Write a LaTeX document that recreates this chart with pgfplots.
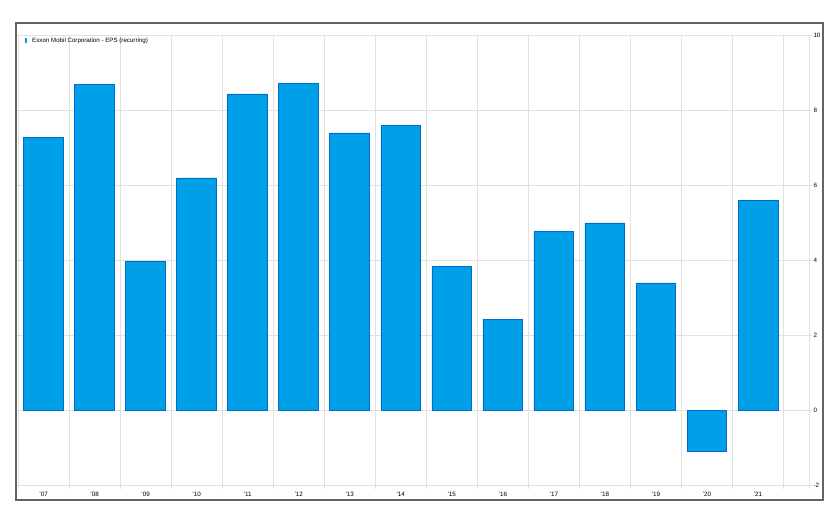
\documentclass[border=0pt]{standalone}
\usepackage{fontspec}
\setmainfont{Liberation Sans}
\usepackage{pgfplots}
\pgfplotsset{compat=1.18}
\definecolor{barblue}{RGB}{0,160,233}
\definecolor{baredge}{RGB}{0,108,200}
\definecolor{gridgray}{RGB}{225,225,225}
\definecolor{framegray}{RGB}{100,100,100}
\begin{document}
\begin{tikzpicture}
\begin{axis}[
  width=792bp, height=454bp, scale only axis,
  xmin=-0.52, xmax=15, ymin=-2.1, ymax=10,
  axis line style={draw=none},
  xtick={0,...,14},
  xticklabels={'07,'08,'09,'10,'11,'12,'13,'14,'15,'16,'17,'18,'19,'20,'21},
  minor xtick={-0.5,0.5,...,14.5,15},
  xminorgrids=true,
  minor x tick style={draw=none},
  major x tick style={draw=none},
  minor grid style={gridgray, line width=0.8pt},
  ytick={-2,0,2,4,6,8,10},
  ymajorgrids=true,
  major grid style={gridgray, line width=0.8pt},
  ytick pos=right,
  yticklabel pos=right,
  tick align=outside,
  major tick length=3bp,
  y tick style={gridgray, line width=0.8pt},
  /pgf/number format/assume math mode=true,
  tick label style={font=\fontsize{6.3}{7}\selectfont, text=black},
  yticklabel style={xshift=-2bp},
  xticklabel style={yshift=3.5bp},
  legend style={at={(rel axis cs:0.0095,0.987)}, anchor=west, draw=none, fill=none,
    font=\fontsize{6.2}{7}\selectfont, inner sep=0pt},
  legend image code/.code={\fill[barblue, draw=none] (0bp,-2.5bp) rectangle (1.8bp,2.5bp);
    \path[draw=none, fill=none] (0bp,0bp) rectangle (5.5bp,0.1bp);},
  legend cell align=left,
]
\addplot[ybar, bar width=0.78, fill=barblue, draw=baredge, line width=0.7pt]
coordinates {
(0,7.28) (1,8.69) (2,3.97) (3,6.19) (4,8.43) (5,8.72) (6,7.39) (7,7.60)
(8,3.84) (9,2.43) (10,4.77) (11,4.99) (12,3.39) (13,-1.09) (14,5.60)
};
\addlegendentry{Exxon Mobil Corporation - EPS (recurring)}
\coordinate (fbl) at (rel axis cs:-0.00126,-0.0242);
\coordinate (ftr) at (rel axis cs:1.0177,1.0264);
\coordinate (bbl) at (rel axis cs:-0.0215,-0.0683);
\coordinate (btr) at (rel axis cs:1.0379,1.0771);
\end{axis}
\draw[framegray, line width=1.1pt] (fbl) rectangle (ftr);
\useasboundingbox (bbl) rectangle (btr);
\end{tikzpicture}
\end{document}
